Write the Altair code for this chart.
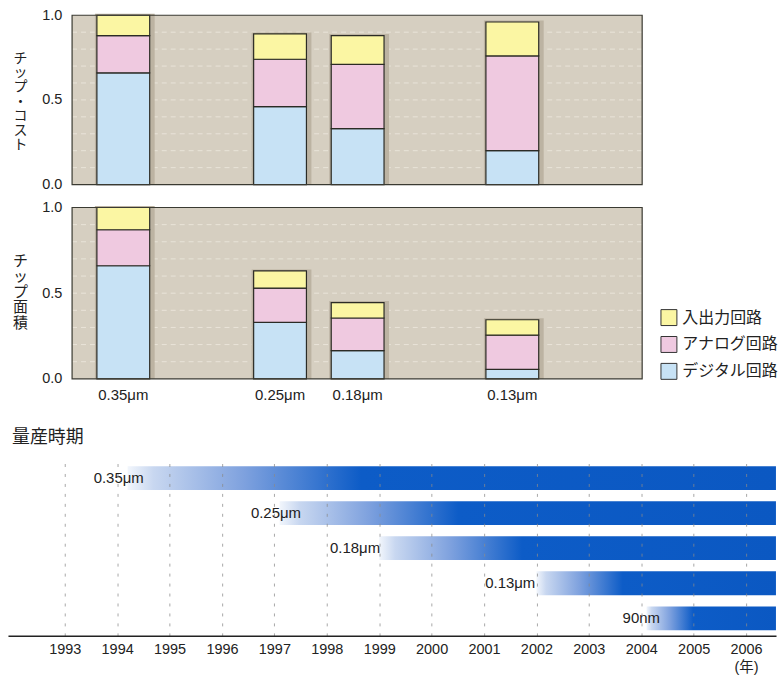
import altair as alt
import pandas as pd

# ---------------- data ----------------
nodes = ["0.35μm", "0.25μm", "0.18μm", "0.13μm"]
node_pos = [1994.05, 1997.08, 1998.58, 2001.57]          # year position of each bar
circuits = ["入出力回路", "アナログ回路", "デジタル回路"]
circuit_colors = ["#fbf6a3", "#efc9e0", "#c7e2f5"]

cost_io = [0.12, 0.15, 0.17, 0.20]
cost_analog = [0.22, 0.28, 0.38, 0.56]
cost_digital = [0.66, 0.46, 0.33, 0.20]

area_io = [0.13, 0.10, 0.09, 0.09]
area_analog = [0.21, 0.20, 0.19, 0.20]
area_digital = [0.66, 0.33, 0.165, 0.055]

y_ticks = [0.0, 0.5, 1.0]
grid_vals = [0.1, 0.2, 0.3, 0.4, 0.5, 0.6, 0.7, 0.8, 0.9]

tl_nodes = ["0.35μm", "0.25μm", "0.18μm", "0.13μm", "90nm"]
tl_start = [1994.2, 1997.1, 1999.0, 2002.0, 2004.1]
tl_end = [2006.57, 2006.57, 2006.57, 2006.57, 2006.57]
tl_label_pos = [1994.03, 1997.03, 1998.54, 2001.5, 2004.0]
years = list(range(1993, 2007))

X_DOMAIN = [1991.917, 2006.571]
PANEL_X = [1993.06, 2004.08]

LATIN = "Liberation Sans, Noto Sans CJK JP, sans-serif"
JP = "Noto Sans CJK JP, sans-serif"
INK = "#222222"
W = 771


def stacked_frame(io, analog, digital):
    rows = []
    for i, n in enumerate(nodes):
        base = 0.0
        for k, (c, v) in enumerate(zip(["デジタル回路", "アナログ回路", "入出力回路"],
                                       [digital[i], analog[i], io[i]])):
            rows.append({"node": n, "pos": node_pos[i], "circuit": c,
                         "y0": base, "y1": base + v, "k": k})
            base += v
    return pd.DataFrame(rows)


def bar_panel(io, analog, digital, title, height, title_y, title_fs, title_lh,
              legend, with_labels):
    df = stacked_frame(io, analog, digital)
    tot = df.groupby(["node", "pos"], as_index=False)["y1"].max()
    xs = alt.Scale(domain=X_DOMAIN, nice=False, zero=False)
    ys = alt.Scale(domain=[0, 1], nice=False, zero=False)
    panel_df = pd.DataFrame({"x0": [PANEL_X[0]], "x1": [PANEL_X[1]], "b": [0.0], "t": [1.0]})
    grid_df = pd.DataFrame({"g": grid_vals, "x0": PANEL_X[0], "x1": PANEL_X[1]})

    bg = alt.Chart(panel_df).mark_rect(fill="#d6cfc1").encode(
        x=alt.X("x0:Q", scale=xs, axis=None), x2="x1",
        y=alt.Y("b:Q", scale=ys, axis=alt.Axis(
            values=y_ticks, format=".1f", offset=-60, domain=False, ticks=False,
            grid=False, labelFontSize=14.5, labelFont=LATIN, labelColor=INK,
            labelPadding=6, labelFlush=False,
            title=list(title), titleAngle=0, titleX=-48, titleY=title_y,
            titleAlign="center", titleBaseline="middle", titleFont=JP,
            titleFontSize=title_fs, titleFontWeight="normal", titleColor=INK,
            titleLineHeight=title_lh)),
        y2="t")
    grid = alt.Chart(grid_df).mark_rule(color="#ece7dd", strokeDash=[5, 4],
                                        strokeWidth=1, opacity=0.85).encode(
        x=alt.X("x0:Q", axis=None), x2="x1", y=alt.Y("g:Q"))
    shadow = alt.Chart(tot).mark_bar(orient="vertical", width=60, xOffset=1.5,
                                     yOffset=-1.5, color="#bcb3a2").encode(
        x=alt.X("pos:Q", axis=None), y=alt.Y("y1:Q"), y2=alt.Y2(datum=0))
    bars = alt.Chart(df).mark_bar(orient="vertical", width=53, stroke="#2b2b25",
                                  strokeWidth=1.2).encode(
        x=alt.X("pos:Q", axis=None), y=alt.Y("y0:Q"), y2="y1",
        color=alt.Color("circuit:N", scale=alt.Scale(domain=circuits, range=circuit_colors),
                        legend=legend))
    border = alt.Chart(panel_df).mark_rect(fillOpacity=0, stroke="#3a3a32",
                                           strokeWidth=1.2).encode(
        x=alt.X("x0:Q", axis=None), x2="x1", y=alt.Y("b:Q"), y2="t")
    layers = [bg, grid, shadow, bars, border]
    if with_labels:
        lab = alt.Chart(pd.DataFrame({"node": nodes, "pos": node_pos})).mark_text(
            fontSize=15, font=LATIN, color=INK, baseline="middle", dy=16).encode(
            x=alt.X("pos:Q", axis=None), y=alt.Y(datum=0), text="node:N")
        layers.append(lab)
    return alt.layer(*layers).properties(width=W, height=height)


legend = alt.Legend(title=None, orient="none", legendX=655, legendY=102,
                    symbolType="square", symbolSize=256, symbolStrokeColor="#333333",
                    symbolStrokeWidth=1, symbolOpacity=1, labelFontSize=16, labelFont=JP,
                    labelColor=INK, labelOffset=5, rowPadding=6, padding=0)

top = bar_panel(cost_io, cost_analog, cost_digital, "チップ・コスト", 170, 43, 14, 14.5,
                None, False)
mid = bar_panel(area_io, area_analog, area_digital, "チップ面積", 172, 53, 15, 15.5,
                legend, True)

# empty spacer between the bar panels and the timeline
spacer = alt.Chart(pd.DataFrame({"v": [0]})).mark_point(opacity=0).encode(
    x=alt.X("v:Q", axis=None), y=alt.Y("v:Q", axis=None)).properties(width=W, height=36)

# ---------------- timeline ----------------
tl_df = pd.DataFrame({"node": tl_nodes, "start": tl_start, "end": tl_end,
                      "lpos": tl_label_pos})
grad = {"gradient": "linear", "x1": 0, "x2": 1, "y1": 0, "y2": 0,
        "stops": [{"offset": 0, "color": "#f2f6fc"},
                  {"offset": 0.04, "color": "#c8d7f0"},
                  {"offset": 0.18, "color": "#7ea1de"},
                  {"offset": 0.36, "color": "#0d5cc7"},
                  {"offset": 1, "color": "#0b58c2"}]}
xs_tl = alt.Scale(domain=X_DOMAIN, nice=False, zero=False)
ys_tl = alt.Scale(domain=tl_nodes, paddingInner=0.32, paddingOuter=0.16)

tl_bars = alt.Chart(tl_df).mark_bar(fill=grad).encode(
    x=alt.X("start:Q", scale=xs_tl, axis=alt.Axis(
        values=years, format="d", title=None, ticks=False, domain=True,
        domainColor=INK, domainWidth=1.5, grid=True, gridDash=[3, 7],
        gridColor="#8a8a8a", gridOpacity=0.75, gridWidth=1, zindex=1,
        labelFontSize=14.5, labelFont=LATIN, labelColor=INK, labelPadding=7,
        labelFlush=False, labelOverlap=False, labelLineHeight=18,
        labelExpr="datum.value == 2006 ? ['2006', '(年)'] : datum.label")),
    x2="end",
    y=alt.Y("node:N", scale=ys_tl, axis=None))
tl_text = alt.Chart(tl_df).mark_text(fontSize=15, font=LATIN, color=INK,
                                     baseline="middle").encode(
    x=alt.X("lpos:Q"), y=alt.Y("node:N"), text="node:N")

timeline = alt.layer(tl_bars, tl_text).properties(
    width=W, height=176,
    title=alt.TitleParams("量産時期", anchor="start", fontSize=18, font=JP,
                          fontWeight="normal", color=INK, offset=14, dx=4))

chart = alt.vconcat(top, mid, spacer, timeline, spacing=23, bounds="flush").resolve_scale(
    x="independent", y="independent", color="independent").resolve_legend(
    color="independent").properties(
    padding={"left": 8, "top": 6, "right": 0, "bottom": 0},
    background="white").configure_view(stroke=None)

chart.save("out.html", embed_options={"renderer": "svg", "actions": False})
